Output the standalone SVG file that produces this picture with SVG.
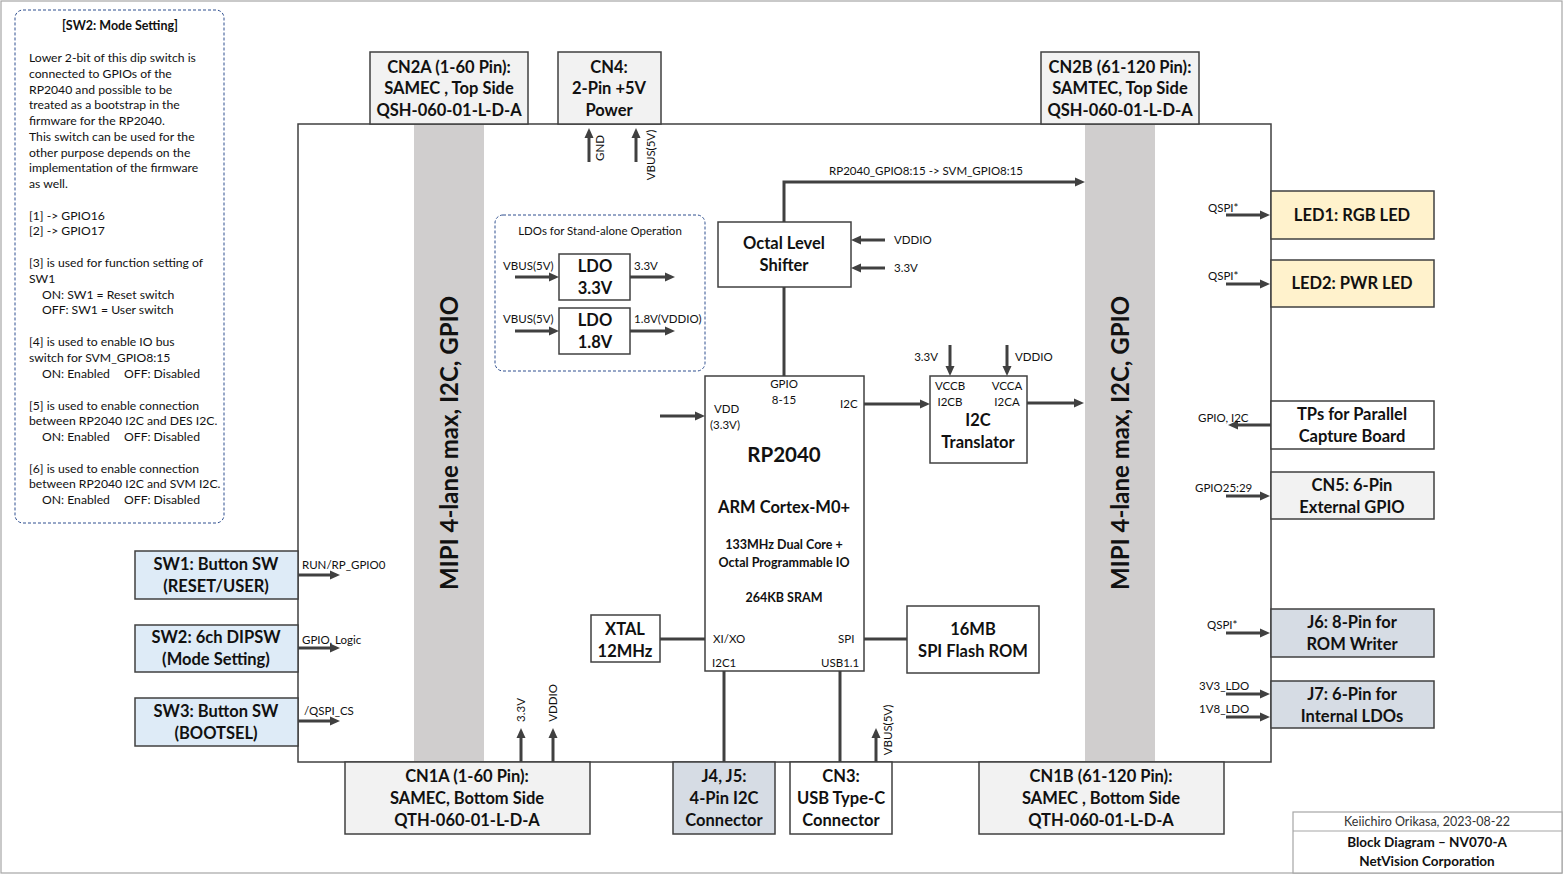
<svg xmlns="http://www.w3.org/2000/svg" width="1564" height="875" viewBox="0 0 1564 875">
<style>
text{font-family:Lato,"Liberation Sans",sans-serif;fill:#111}
.b{font-weight:bold}
.t16{font-size:16.5px;font-weight:bold;text-anchor:middle}
.s{font-size:11.5px}
.n{font-size:12.2px}
.box{stroke:#404040;stroke-width:1.5}
.con{stroke:#404040;stroke-width:3;fill:none}
</style>
<defs>
<marker id="ah" markerUnits="userSpaceOnUse" markerWidth="10" markerHeight="10" refX="2" refY="5" orient="auto">
<path d="M0,0.5 L10,5 L0,9.5 z" fill="#404040"/>
</marker>
</defs>
<rect x="0" y="0" width="1564" height="875" fill="#fff"/>
<rect x="1" y="1" width="1561" height="872" fill="none" stroke="#a6a6a6" stroke-width="1.2"/>

<g id="board">
<rect x="298" y="124" width="973" height="638" fill="#fff" class="box"/>
<rect x="414" y="125" width="70" height="636" fill="#d0cece"/>
<rect x="1085" y="125" width="70" height="636" fill="#d0cece"/>
<text transform="translate(458,443) rotate(-90)" text-anchor="middle" style="font-size:24px;font-weight:bold">MIPI 4-lane max, I2C, GPIO</text>
<text transform="translate(1129,443) rotate(-90)" text-anchor="middle" style="font-size:24px;font-weight:bold">MIPI 4-lane max, I2C, GPIO</text>
</g>

<g id="note">
<rect x="15" y="10" width="209" height="513" rx="8" fill="none" stroke="#2f4f8f" stroke-width="1" stroke-dasharray="3,2"/>
<text x="120" y="30" text-anchor="middle" class="b" style="font-size:12.5px">[SW2: Mode Setting]</text>
<g class="n">
<text x="29" y="62">Lower 2-bit of this dip switch is</text>
<text x="29" y="78">connected to GPIOs of the</text>
<text x="29" y="94">RP2040 and possible to be</text>
<text x="29" y="109">treated as a bootstrap in the</text>
<text x="29" y="125">firmware for the RP2040.</text>
<text x="29" y="141">This switch can be used for the</text>
<text x="29" y="157">other purpose depends on the</text>
<text x="29" y="172">implementation of the firmware</text>
<text x="29" y="188">as well.</text>
<text x="29" y="220">[1] -&gt; GPIO16</text>
<text x="29" y="235">[2] -&gt; GPIO17</text>
<text x="29" y="267">[3] is used for function setting of</text>
<text x="29" y="283">SW1</text>
<text x="42" y="299">ON: SW1 = Reset switch</text>
<text x="42" y="314">OFF: SW1 = User switch</text>
<text x="29" y="346">[4] is used to enable IO bus</text>
<text x="29" y="362">switch for SVM_GPIO8:15</text>
<text x="42" y="378">ON: Enabled<tspan x="124">OFF: Disabled</tspan></text>
<text x="29" y="410">[5] is used to enable connection</text>
<text x="29" y="425">between RP2040 I2C and DES I2C.</text>
<text x="42" y="441">ON: Enabled<tspan x="124">OFF: Disabled</tspan></text>
<text x="29" y="473">[6] is used to enable connection</text>
<text x="29" y="488">between RP2040 I2C and SVM I2C.</text>
<text x="42" y="504">ON: Enabled<tspan x="124">OFF: Disabled</tspan></text>
</g>
</g>

<g id="cn2a">
<rect x="370" y="52" width="158" height="72" fill="#f2f2f2" class="box"/>
<text x="449" y="73" class="t16">CN2A (1-60 Pin):</text>
<text x="449" y="94" class="t16">SAMEC , Top Side</text>
<text x="449" y="116" class="t16">QSH-060-01-L-D-A</text>
</g>
<g id="cn4">
<rect x="558" y="52" width="103" height="72" fill="#f2f2f2" class="box"/>
<text x="609" y="73" class="t16">CN4:</text>
<text x="609" y="94" class="t16">2-Pin +5V</text>
<text x="609" y="116" class="t16">Power</text>
</g>
<g id="cn2b">
<rect x="1041" y="52" width="158" height="72" fill="#f2f2f2" class="box"/>
<text x="1120" y="73" class="t16">CN2B (61-120 Pin):</text>
<text x="1120" y="94" class="t16">SAMTEC, Top Side</text>
<text x="1120" y="116" class="t16">QSH-060-01-L-D-A</text>
</g>

<g id="ldo-group">
<rect x="495" y="215" width="210" height="156" rx="8" fill="none" stroke="#2f4f8f" stroke-width="1" stroke-dasharray="3,2"/>
<text x="600" y="235" text-anchor="middle" class="s">LDOs for Stand-alone Operation</text>
</g>
<g id="ldo33">
<rect x="559" y="254" width="71" height="46" fill="#fff" class="box"/>
<text x="595" y="272" class="t16">LDO</text>
<text x="595" y="294" class="t16">3.3V</text>
</g>
<g id="ldo18">
<rect x="559" y="308" width="71" height="46" fill="#fff" class="box"/>
<text x="595" y="326" class="t16">LDO</text>
<text x="595" y="348" class="t16">1.8V</text>
</g>

<g id="octal">
<rect x="718" y="222" width="133" height="65" fill="#fff" class="box"/>
<text x="784" y="249" class="t16">Octal Level</text>
<text x="784" y="271" class="t16">Shifter</text>
</g>

<g id="rp2040">
<rect x="705" y="376" width="159" height="295" fill="#fff" class="box"/>
<text x="784" y="388" text-anchor="middle" class="s">GPIO</text>
<text x="784" y="404" text-anchor="middle" class="s">8-15</text>
<text x="714" y="413" class="s">VDD</text>
<text x="710" y="429" class="s">(3.3V)</text>
<text x="840" y="408" class="s">I2C</text>
<text x="784" y="462" text-anchor="middle" class="b" style="font-size:20.5px">RP2040</text>
<text x="784" y="513" class="t16">ARM Cortex-M0+</text>
<text x="784" y="549" text-anchor="middle" class="b" style="font-size:12.5px">133MHz Dual Core +</text>
<text x="784" y="567" text-anchor="middle" class="b" style="font-size:12.5px">Octal Programmable IO</text>
<text x="784" y="602" text-anchor="middle" class="b" style="font-size:12.5px">264KB SRAM</text>
<text x="713" y="643" class="s">XI/XO</text>
<text x="838" y="643" class="s">SPI</text>
<text x="712" y="667" class="s">I2C1</text>
<text x="821" y="667" class="s">USB1.1</text>
</g>

<g id="i2ctrans">
<rect x="930" y="376" width="97" height="87" fill="#fff" class="box"/>
<text x="950" y="390" text-anchor="middle" class="s">VCCB</text>
<text x="1007" y="390" text-anchor="middle" class="s">VCCA</text>
<text x="950" y="406" text-anchor="middle" class="s">I2CB</text>
<text x="1007" y="406" text-anchor="middle" class="s">I2CA</text>
<text x="978" y="426" class="t16">I2C</text>
<text x="978" y="448" class="t16">Translator</text>
</g>

<g id="xtal">
<rect x="591" y="615" width="69" height="47" fill="#fff" class="box"/>
<text x="625" y="635" class="t16">XTAL</text>
<text x="625" y="657" class="t16">12MHz</text>
</g>
<g id="flash">
<rect x="907" y="606" width="132" height="67" fill="#fff" class="box"/>
<text x="973" y="635" class="t16">16MB</text>
<text x="973" y="657" class="t16">SPI Flash ROM</text>
</g>

<g id="cn1a">
<rect x="345" y="762" width="245" height="72" fill="#f2f2f2" class="box"/>
<text x="467" y="782" class="t16">CN1A (1-60 Pin):</text>
<text x="467" y="804" class="t16">SAMEC, Bottom Side</text>
<text x="467" y="826" class="t16">QTH-060-01-L-D-A</text>
</g>
<g id="j4j5">
<rect x="673" y="762" width="102" height="72" fill="#d6dce4" class="box"/>
<text x="724" y="782" class="t16">J4, J5:</text>
<text x="724" y="804" class="t16">4-Pin I2C</text>
<text x="724" y="826" class="t16">Connector</text>
</g>
<g id="cn3">
<rect x="790" y="762" width="102" height="72" fill="#fff" class="box"/>
<text x="841" y="782" class="t16">CN3:</text>
<text x="841" y="804" class="t16">USB Type-C</text>
<text x="841" y="826" class="t16">Connector</text>
</g>
<g id="cn1b">
<rect x="979" y="762" width="245" height="72" fill="#f2f2f2" class="box"/>
<text x="1101" y="782" class="t16">CN1B (61-120 Pin):</text>
<text x="1101" y="804" class="t16">SAMEC , Bottom Side</text>
<text x="1101" y="826" class="t16">QTH-060-01-L-D-A</text>
</g>

<g id="sw1">
<rect x="135" y="551" width="163" height="48" fill="#deebf7" class="box"/>
<text x="216" y="570" class="t16">SW1: Button SW</text>
<text x="216" y="592" class="t16">(RESET/USER)</text>
</g>
<g id="sw2">
<rect x="135" y="625" width="163" height="47" fill="#deebf7" class="box"/>
<text x="216" y="643" class="t16">SW2: 6ch DIPSW</text>
<text x="216" y="665" class="t16">(Mode Setting)</text>
</g>
<g id="sw3">
<rect x="135" y="698" width="163" height="48" fill="#deebf7" class="box"/>
<text x="216" y="717" class="t16">SW3: Button SW</text>
<text x="216" y="739" class="t16">(BOOTSEL)</text>
</g>

<g id="led1">
<rect x="1271" y="191" width="163" height="48" fill="#fff2cc" class="box"/>
<text x="1352" y="221" class="t16">LED1: RGB LED</text>
</g>
<g id="led2">
<rect x="1271" y="260" width="163" height="47" fill="#fff2cc" class="box"/>
<text x="1352" y="289" class="t16">LED2: PWR LED</text>
</g>
<g id="tps">
<rect x="1271" y="401" width="163" height="48" fill="#fff" class="box"/>
<text x="1352" y="420" class="t16">TPs for Parallel</text>
<text x="1352" y="442" class="t16">Capture Board</text>
</g>
<g id="cn5">
<rect x="1271" y="472" width="163" height="47" fill="#f2f2f2" class="box"/>
<text x="1352" y="491" class="t16">CN5: 6-Pin</text>
<text x="1352" y="513" class="t16">External GPIO</text>
</g>
<g id="j6">
<rect x="1271" y="609" width="163" height="48" fill="#d6dce4" class="box"/>
<text x="1352" y="628" class="t16">J6: 8-Pin for</text>
<text x="1352" y="650" class="t16">ROM Writer</text>
</g>
<g id="j7">
<rect x="1271" y="681" width="163" height="47" fill="#d6dce4" class="box"/>
<text x="1352" y="700" class="t16">J7: 6-Pin for</text>
<text x="1352" y="722" class="t16">Internal LDOs</text>
</g>

<g id="titleblock">
<rect x="1293" y="812" width="269" height="61" fill="#fff" stroke="#a6a6a6" stroke-width="1.2"/>
<line x1="1293" y1="831" x2="1562" y2="831" stroke="#a6a6a6" stroke-width="1.2"/>
<text x="1427" y="826" text-anchor="middle" style="font-size:12.5px;fill:#333">Keiichiro Orikasa, 2023-08-22</text>
<text x="1427" y="847" text-anchor="middle" class="b" style="font-size:13.5px">Block Diagram – NV070-A</text>
<text x="1427" y="866" text-anchor="middle" class="b" style="font-size:13.5px">NetVision Corporation</text>
</g>

<g id="connectors">
<line x1="589" y1="162" x2="589" y2="136" class="con" marker-end="url(#ah)"/>
<line x1="636" y1="162" x2="636" y2="136" class="con" marker-end="url(#ah)"/>
<line x1="515" y1="277" x2="551" y2="277" class="con" marker-end="url(#ah)"/>
<line x1="630" y1="277" x2="667" y2="277" class="con" marker-end="url(#ah)"/>
<line x1="515" y1="331" x2="551" y2="331" class="con" marker-end="url(#ah)"/>
<line x1="630" y1="331" x2="667" y2="331" class="con" marker-end="url(#ah)"/>
<line x1="885" y1="240" x2="859" y2="240" class="con" marker-end="url(#ah)"/>
<line x1="885" y1="268" x2="859" y2="268" class="con" marker-end="url(#ah)"/>
<polyline points="784,222 784,182 1077,182" class="con" marker-end="url(#ah)"/>
<line x1="784" y1="287" x2="784" y2="376" class="con"/>
<line x1="660" y1="416" x2="697" y2="416" class="con" marker-end="url(#ah)"/>
<line x1="864" y1="404" x2="922" y2="404" class="con" marker-end="url(#ah)"/>
<line x1="950" y1="345" x2="950" y2="368" class="con" marker-end="url(#ah)"/>
<line x1="1007" y1="345" x2="1007" y2="368" class="con" marker-end="url(#ah)"/>
<line x1="1027" y1="403" x2="1076" y2="403" class="con" marker-end="url(#ah)"/>
<line x1="660" y1="639" x2="705" y2="639" class="con"/>
<line x1="864" y1="639" x2="907" y2="639" class="con"/>
<line x1="724" y1="671" x2="724" y2="762" class="con"/>
<line x1="840" y1="671" x2="840" y2="762" class="con"/>
<line x1="521" y1="762" x2="521" y2="736" class="con" marker-end="url(#ah)"/>
<line x1="553" y1="762" x2="553" y2="736" class="con" marker-end="url(#ah)"/>
<line x1="876" y1="762" x2="876" y2="736" class="con" marker-end="url(#ah)"/>
<line x1="298" y1="575" x2="332" y2="575" class="con" marker-end="url(#ah)"/>
<line x1="298" y1="648" x2="332" y2="648" class="con" marker-end="url(#ah)"/>
<line x1="298" y1="721" x2="332" y2="721" class="con" marker-end="url(#ah)"/>
<line x1="1226" y1="215" x2="1262" y2="215" class="con" marker-end="url(#ah)"/>
<line x1="1226" y1="284" x2="1262" y2="284" class="con" marker-end="url(#ah)"/>
<line x1="1271" y1="425" x2="1236" y2="425" class="con" marker-end="url(#ah)"/>
<line x1="1226" y1="496" x2="1262" y2="496" class="con" marker-end="url(#ah)"/>
<line x1="1226" y1="633" x2="1262" y2="633" class="con" marker-end="url(#ah)"/>
<line x1="1226" y1="694" x2="1262" y2="694" class="con" marker-end="url(#ah)"/>
<line x1="1226" y1="717" x2="1262" y2="717" class="con" marker-end="url(#ah)"/>
<g class="s">
<text transform="translate(604,148) rotate(-90)" text-anchor="middle">GND</text>
<text transform="translate(655,155) rotate(-90)" text-anchor="middle">VBUS(5V)</text>
<text x="503" y="270">VBUS(5V)</text>
<text x="634" y="270">3.3V</text>
<text x="503" y="323">VBUS(5V)</text>
<text x="634" y="323">1.8V(VDDIO)</text>
<text x="894" y="244">VDDIO</text>
<text x="894" y="272">3.3V</text>
<text x="926" y="175" text-anchor="middle">RP2040_GPIO8:15 -&gt; SVM_GPIO8:15</text>
<text x="938" y="361" text-anchor="end">3.3V</text>
<text x="1015" y="361">VDDIO</text>
<text transform="translate(525,710) rotate(-90)" text-anchor="middle">3.3V</text>
<text transform="translate(557,703) rotate(-90)" text-anchor="middle">VDDIO</text>
<text transform="translate(892,730) rotate(-90)" text-anchor="middle">VBUS(5V)</text>
<text x="302" y="569">RUN/RP_GPIO0</text>
<text x="302" y="644">GPIO, Logic</text>
<text x="304" y="715">/QSPI_CS</text>
<text x="1208" y="212">QSPI*</text>
<text x="1208" y="280">QSPI*</text>
<text x="1198" y="422">GPIO, I2C</text>
<text x="1195" y="492">GPIO25:29</text>
<text x="1207" y="629">QSPI*</text>
<text x="1199" y="690">3V3_LDO</text>
<text x="1199" y="713">1V8_LDO</text>
</g>
</g>
</svg>
